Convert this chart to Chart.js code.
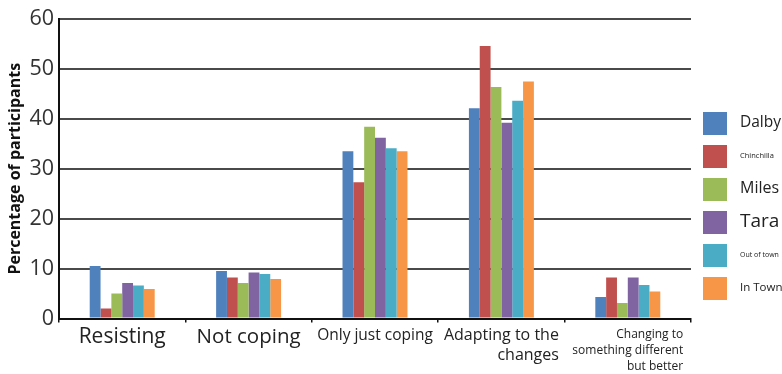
<!DOCTYPE html>
<html>
<head>
<meta charset="utf-8">
<script src="https://cdn.jsdelivr.net/npm/chart.js@4.4.1/dist/chart.umd.min.js"></script>
<style>
  html, body { margin: 0; padding: 0; background: #fff; }
  #wrap { position: relative; width: 782px; height: 374px; }
</style>
</head>
<body>
<div id="wrap"><canvas id="chart" width="782" height="374"></canvas></div>
<script>
// Responses by coping category, percentage of participants per group
const categories = [
  'Resisting',
  'Not coping',
  'Only just coping',
  ['Adapting to the', 'changes'],
  ['Changing to', 'something different', 'but better']
];
const seriesNames = ['Dalby', 'Chinchilla', 'Miles', 'Tara', 'Out of town', 'In Town'];
const dalby      = [10.5, 9.5, 33.5, 42.1, 4.3];
const chinchilla = [2.0, 8.2, 27.3, 54.6, 8.2];
const miles      = [5.0, 7.1, 38.4, 46.4, 3.1];
const tara       = [7.1, 9.2, 36.2, 39.2, 8.2];
const outOfTown  = [6.6, 8.9, 34.1, 43.6, 6.7];
const inTown     = [5.9, 7.9, 33.5, 47.5, 5.4];
const yTicks = [0, 10, 20, 30, 40, 50, 60];

// Styling
const FONT = "'Open Sans', 'Liberation Sans', sans-serif";
const colors = ['#4F81BD', '#C0504D', '#9BBB59', '#8064A2', '#4BACC6', '#F79646'];
const catFont = [
  { size: 21,   first: 343, lh: 20 },
  { size: 20.5, first: 343, lh: 20 },
  { size: 15.5, first: 340, lh: 20 },
  { size: 16,   first: 340, lh: 20 },
  { size: 12,   first: 338, lh: 16 }
];
const legendFont = [15.5, 7.5, 16, 19, 7, 11.5];

const seriesValues = [dalby, chinchilla, miles, tara, outOfTown, inTown];

// Category labels: each multi-line block is centred under its group, lines right-aligned
const categoryLabels = {
  id: 'categoryLabels',
  afterDraw(chart) {
    const ctx = chart.ctx;
    const x = chart.scales.x;
    ctx.save();
    ctx.fillStyle = '#222';
    ctx.textBaseline = 'alphabetic';
    categories.forEach((lab, i) => {
      const lines = Array.isArray(lab) ? lab : [lab];
      const f = catFont[i];
      ctx.font = f.size + 'px ' + FONT;
      const w = Math.max(...lines.map(l => ctx.measureText(l).width));
      const cx = x.getPixelForTick(i);
      const right = cx + w / 2;
      ctx.textAlign = 'right';
      lines.forEach((l, k) => ctx.fillText(l, right, f.first + k * f.lh));
    });
    ctx.restore();
  }
};

// Legend column on the right with per-entry text sizes
const sideLegend = {
  id: 'sideLegend',
  afterDraw(chart) {
    const ctx = chart.ctx;
    ctx.save();
    chart.data.datasets.forEach((ds, i) => {
      const top = 112 + i * 33;
      ctx.fillStyle = ds.backgroundColor;
      ctx.fillRect(703, top, 24, 23);
      ctx.fillStyle = '#222';
      ctx.font = legendFont[i] + 'px ' + FONT;
      ctx.textAlign = 'left';
      ctx.textBaseline = 'middle';
      ctx.fillText(ds.label, 740, top + 10.5);
    });
    ctx.restore();
  }
};

new Chart(document.getElementById('chart'), {
  type: 'bar',
  data: {
    labels: categories,
    datasets: seriesNames.map((name, i) => ({
      label: name,
      data: seriesValues[i],
      backgroundColor: colors[i],
      borderWidth: 0,
      categoryPercentage: 0.514,
      barPercentage: 1
    }))
  },
  options: {
    responsive: false,
    animation: false,
    layout: { padding: { top: 19, right: 91, left: 0, bottom: 0 } },
    plugins: {
      legend: { display: false },
      tooltip: { enabled: false }
    },
    scales: {
      x: {
        offset: true,
        grid: { display: true, drawOnChartArea: false, drawTicks: true, tickLength: 4, color: '#111', lineWidth: 1.5, offset: true },
        border: { display: true, color: '#111', width: 2 },
        ticks: { display: false },
        afterFit(s) { s.height = 55.5; }
      },
      y: {
        min: 0,
        max: 60,
        afterBuildTicks(s) { s.ticks = yTicks.map(v => ({ value: v })); },
        grid: { color: '#4a4a4a', lineWidth: 2, drawTicks: false },
        border: { display: true, color: '#111', width: 2 },
        ticks: { color: '#333', padding: 5, font: { family: FONT, size: 21.5 } },
        title: {
          display: true,
          text: 'Percentage of participants',
          color: '#111',
          font: { family: FONT, size: 16, weight: 'bold' },
          padding: { top: 6, bottom: 0 }
        },
        afterFit(s) { s.width = 59; }
      }
    }
  },
  plugins: [categoryLabels, sideLegend]
});
</script>
</body>
</html>
